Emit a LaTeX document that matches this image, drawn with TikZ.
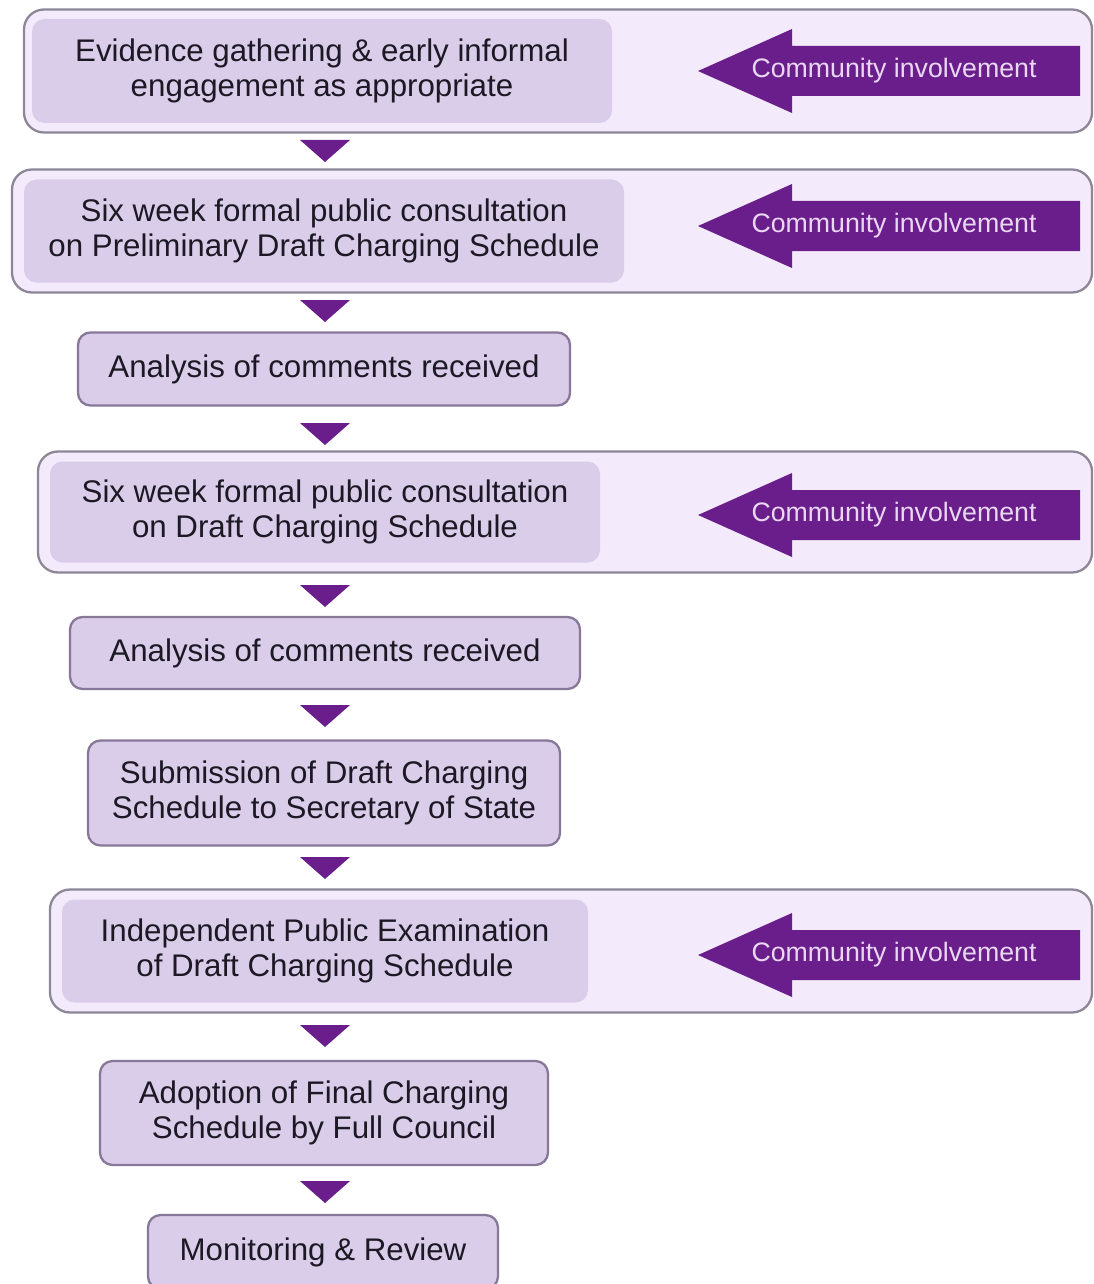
\documentclass[tikz,border=0pt]{standalone}
\usepackage{fontspec}
\setmainfont{Liberation Sans}
\definecolor{cipurple}{RGB}{106,30,140}
\definecolor{citext}{RGB}{234,216,242}
\definecolor{bandfill}{RGB}{243,235,251}
\definecolor{bandline}{RGB}{140,134,150}
\definecolor{stepfill}{RGB}{217,205,233}
\definecolor{stepline}{RGB}{136,120,152}
\definecolor{steptext}{RGB}{28,24,36}
\begin{document}
\begin{tikzpicture}
[x=0.02cm,y=-0.02cm,%
  banddecorate/.style={draw=bandline,fill=bandfill,line width=1.3pt,rounded corners=0.4cm,inner sep=0pt},%
  stepdecorate/.style={fill=stepfill,rounded corners=0.25cm,inner sep=0pt,align=center,
    text=steptext,font=\fontsize{17.8}{20}\selectfont},%
  boxdecorate/.style={stepdecorate,draw=stepline,line width=1.3pt},%
  pointdecorate/.style={fill=cipurple},%
  cidecorate/.style={text=citext,font=\fontsize{15.2}{17}\selectfont}]
\clip (0,0) rectangle (1094,1284);
%% bands round the consultation stages
\foreach \nodename/\x/\y/\w/\h in {band1/558/71/1068/123, band2/552/231/1080/123,
  band3/565/512/1054/121, band4/571/951/1042/123} {
  \node (\nodename) at (\x,\y) [banddecorate, minimum width=\w*0.02cm, minimum height=\h*0.02cm] {};
}
%% stages inside the bands
\foreach \nodename/\x/\y/\w/\h/\txt in {
  step1/322/71/580/104/{Evidence gathering \& early informal\\engagement as appropriate},
  step2/324/231/600/103/{Six week formal public consultation\\on Preliminary Draft Charging Schedule},
  step4/325/512/550/101/{Six week formal public consultation\\on Draft Charging Schedule},
  step7/325/951/526/103/{Independent Public Examination\\of Draft Charging Schedule}} {
  \node (\nodename) at (\x,\y) [stepdecorate, minimum width=\w*0.02cm, minimum height=\h*0.02cm] {\txt};
}
%% stages on their own
\foreach \nodename/\x/\y/\w/\h/\txt in {
  step3/324/369/492/73/{Analysis of comments received},
  step5/325/653/510/72/{Analysis of comments received},
  step6/324/793/472/105/{Submission of Draft Charging\\Schedule to Secretary of State},
  step8/324/1113/448/104/{Adoption of Final Charging\\Schedule by Full Council},
  step9/323/1252/350/74/{Monitoring \& Review}} {
  \node (\nodename) at (\x,\y) [boxdecorate, minimum width=\w*0.02cm, minimum height=\h*0.02cm] {\txt};
}
%% community involvement arrows
\foreach \nodename/\y in {ci1/71, ci2/226, ci3/515, ci4/955} {
  \fill[pointdecorate] (698,\y) -- (792,\y-42) -- (792,\y-25) -- (1080,\y-25)
    -- (1080,\y+25) -- (792,\y+25) -- (792,\y+42) -- cycle;
  \node (\nodename) at (894,\y) [cidecorate] {Community involvement};
}
%% down pointers between stages
\foreach \y in {140, 300, 423, 585, 705, 857, 1025, 1181} {
  \fill[pointdecorate] (300,\y) -- (350,\y) -- (325,\y+22) -- cycle;
}
\end{tikzpicture}
\end{document}
